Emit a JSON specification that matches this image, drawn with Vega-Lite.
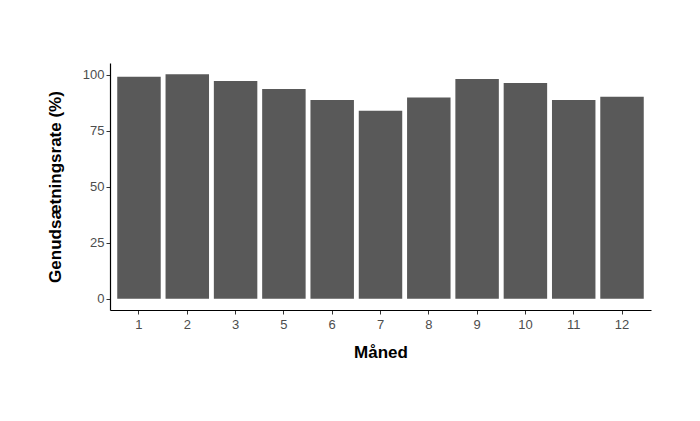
{
  "$schema": "https://vega.github.io/schema/vega-lite/v6.json",
  "autosize": {"type": "none"},
  "width": 541,
  "height": 247,
  "padding": {"left": 110, "top": 63, "right": 49, "bottom": 111},
  "background": "white",
  "config": {
    "view": {"stroke": null},
    "font": "Liberation Sans",
    "axis": {
      "grid": false,
      "domainColor": "black",
      "domainWidth": 1.2,
      "tickColor": "#333333",
      "tickSize": 4,
      "labelColor": "#4D4D4D",
      "labelFontSize": 13,
      "titleFontSize": 17,
      "titleFontWeight": "bold",
      "titleColor": "black"
    }
  },
  "data": {
    "values": [
      {"month": "1", "rate": 99.2},
      {"month": "2", "rate": 100.3},
      {"month": "3", "rate": 97.3},
      {"month": "5", "rate": 93.7},
      {"month": "6", "rate": 88.8},
      {"month": "7", "rate": 84.0},
      {"month": "8", "rate": 89.9},
      {"month": "9", "rate": 98.2},
      {"month": "10", "rate": 96.4},
      {"month": "11", "rate": 88.8},
      {"month": "12", "rate": 90.2}
    ]
  },
  "mark": {"type": "bar", "color": "#595959"},
  "encoding": {
    "x": {
      "field": "month",
      "type": "ordinal",
      "sort": null,
      "title": "Måned",
      "scale": {"paddingInner": 0.1, "paddingOuter": 0.15},
      "axis": {"labelAngle": 0, "labelPadding": 4, "titlePadding": 13}
    },
    "y": {
      "field": "rate",
      "type": "quantitative",
      "title": "Genudsætningsrate (%)",
      "scale": {"domain": [-5, 105.3], "nice": false, "zero": false},
      "axis": {"values": [0, 25, 50, 75, 100], "labelPadding": 2, "titlePadding": 18}
    },
    "y2": {"datum": 0}
  }
}
